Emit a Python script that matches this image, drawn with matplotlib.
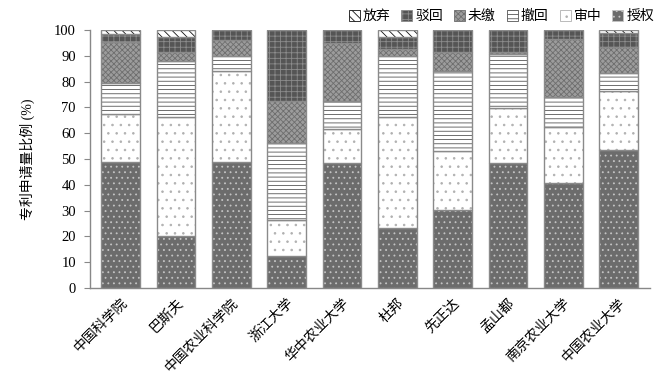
import numpy as np
import matplotlib
matplotlib.use("Agg")
import matplotlib.pyplot as plt
from matplotlib.patches import Patch

plt.rcParams['font.family'] = ['Liberation Serif', 'Noto Sans CJK SC']
plt.rcParams['hatch.linewidth'] = 0.6

# 数据（%），从下往上堆叠
机构 = ["中国科学院", "巴斯夫", "中国农业科学院", "浙江大学", "华中农业大学",
      "杜邦", "先正达", "孟山都", "南京农业大学", "中国农业大学"]
授权 = [48.8, 20.2, 48.8, 12.5, 48.3, 23.1, 30.2, 48.3, 40.6, 53.5]
审中 = [18.6, 46.0, 35.4, 13.9, 13.2, 43.1, 22.8, 21.4, 21.9, 23.0]
撤回 = [12.1, 21.9, 5.7, 29.7, 10.9, 23.7, 31.2, 21.0, 11.4, 6.7]
未缴 = [15.8, 3.5, 6.2, 16.3, 22.7, 2.6, 7.4, 0.8, 22.5, 10.3]
驳回 = [3.3, 5.6, 3.9, 27.6, 4.9, 4.9, 8.4, 8.5, 3.6, 5.2]
放弃 = [1.4, 2.8, 0.0, 0.0, 0.0, 2.6, 0.0, 0.0, 0.0, 1.3]

# (名称, 数据, 底色, 纹理, 纹理颜色)
系列 = [
    ("授权", 授权, "#6c6c6c", "...", "#c4c4c4"),
    ("审中", 审中, "#ffffff", "..", "#b0b0b0"),
    ("撤回", 撤回, "#ffffff", "----", "#555555"),
    ("未缴", 未缴, "#9c9c9c", "xxxxxx", "#6e6e6e"),
    ("驳回", 驳回, "#555555", "+++", "#8c8c8c"),
    ("放弃", 放弃, "#ffffff", "\\\\\\\\", "#111111"),
]

fig = plt.figure(figsize=(6.65, 3.75), dpi=100)
ax = fig.add_axes([0.135, 0.232, 0.842, 0.688])

x = np.arange(len(机构))
w = 0.7
底 = np.zeros(len(机构))
handles = []
for 名, vals, fc, h, hc in 系列:
    vals = np.array(vals)
    ax.bar(x, vals, w, bottom=底, color=fc, edgecolor=hc, linewidth=0, hatch=h)
    ax.bar(x, vals, w, bottom=底, fill=False, edgecolor="#8a8a8a", linewidth=1.0)
    handles.append(Patch(facecolor=fc, edgecolor=hc, hatch=h, linewidth=0.6, label=名))
    底 += vals

ax.set_xlim(-0.56, len(机构) - 0.44)
ax.set_ylim(0, 100)
ax.set_yticks(range(0, 101, 10))
ax.set_xticks(x)
ax.set_xticklabels(机构, rotation=45, ha="right", rotation_mode="anchor", fontsize=10)
ax.tick_params(axis="x", length=0, pad=6)
ax.tick_params(axis="y", length=4, color="#888888", labelsize=10.5, pad=6)
for s in ["top", "right"]:
    ax.spines[s].set_visible(False)
for s in ["left", "bottom"]:
    ax.spines[s].set_color("#888888")
    ax.spines[s].set_linewidth(1.0)

ax.set_ylabel("专利申请量比例 (%)", fontsize=10, labelpad=14)

ax.legend(handles=handles[::-1], ncol=6, loc="lower right", bbox_to_anchor=(1.02, 1.0),
          frameon=False, handlelength=0.8, handleheight=0.8, handletextpad=0.2,
          columnspacing=0.8, fontsize=10, borderaxespad=0.1)

fig.savefig("out.png", dpi=100)
